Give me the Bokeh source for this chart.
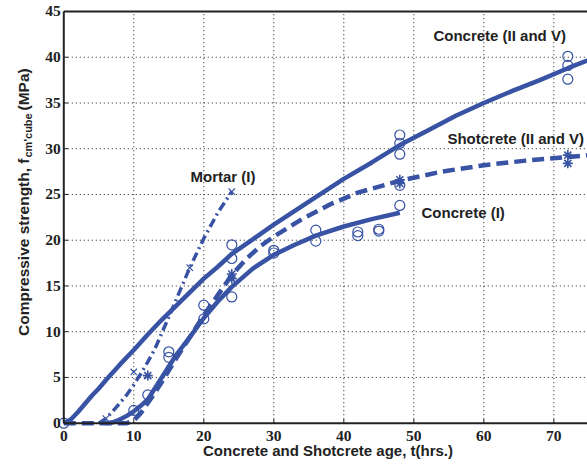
import math
from bokeh.plotting import figure
from bokeh.models import Label, Range1d
from bokeh.embed import file_html
from bokeh.resources import INLINE

BLUE = "#3853a4"
INK = "#222222"
FONT = "Liberation Sans"

# Fitted curves
c2_t = [0, 1, 2, 3, 4, 5, 6, 8, 10, 12, 14, 16, 18, 20, 22, 24, 27, 30, 33, 36, 40, 44, 48, 52, 56, 60, 64, 68, 72, 75]
c2_f = [0, 0.4, 1.2, 2.1, 3.0, 3.8, 4.7, 6.4, 8.0, 9.7, 11.3, 12.8, 14.3, 15.8, 17.1, 18.5, 20.1, 21.7, 23.2, 24.7, 26.7, 28.5, 30.4, 32.0, 33.6, 35.0, 36.3, 37.5, 38.8, 39.7]

c1_t = [6, 7, 8, 9, 10, 11, 12, 13, 14, 16, 18, 20, 22, 24, 27, 30, 33, 36, 40, 44, 48]
c1_f = [0, 0.1, 0.4, 0.8, 1.3, 1.9, 2.6, 3.8, 5.0, 7.4, 9.4, 11.5, 13.3, 14.9, 16.9, 18.4, 19.5, 20.5, 21.5, 22.3, 23.0]

sh_t = [0, 9, 10, 11, 12, 13, 14, 16, 18, 20, 22, 24, 26, 28, 30, 34, 38, 42, 48, 54, 60, 66, 72, 75]
sh_f = [0, 0, 0.3, 1.1, 2.2, 3.3, 4.5, 7.0, 9.4, 11.8, 14.0, 16.2, 17.9, 19.3, 20.4, 22.3, 23.9, 25.2, 26.5, 27.5, 28.2, 28.7, 29.1, 29.3]

mo_t = [5, 6, 7, 8, 9, 10, 11, 12, 13, 15, 16, 18, 20, 22, 24]
mo_f = [0, 0.5, 1.3, 2.2, 3.1, 4.2, 5.4, 6.7, 8.1, 11.6, 13.4, 17.0, 20.2, 23.0, 25.3]

# Measured points
c1p_t = [0, 10, 12, 15, 15, 20, 20, 24, 30, 30, 36, 36, 42, 42, 45, 45, 48, 48]
c1p_f = [0, 1.4, 3.1, 7.8, 7.2, 12.9, 11.4, 13.8, 18.9, 18.6, 21.1, 19.9, 20.9, 20.5, 21.2, 21.0, 23.8, 26.0]
c2p_t = [24, 24, 48, 48, 48, 72, 72, 72]
c2p_f = [19.5, 18.0, 31.5, 30.6, 29.4, 40.1, 39.1, 37.6]
shp_t = [12, 24, 24, 48, 48, 72, 72]
shp_f = [5.2, 16.3, 15.8, 26.6, 26.2, 29.3, 28.4]
mop_t = [6, 10, 18, 24]
mop_f = [0.5, 5.6, 17.0, 25.3]

x_ticks = [0, 10, 20, 30, 40, 50, 60, 70]
y_ticks = [0, 5, 10, 15, 20, 25, 30, 35, 40, 45]
x_labels = [str(v) for v in x_ticks]
y_labels = [str(v) for v in y_ticks]
X_MAX = 75
Y_MAX = 45

# the frame fills the whole canvas; axes are drawn at t=0 and f=0
p = figure(width=587, height=470, output_backend="svg", toolbar_location=None,
           x_range=Range1d(-9.04, 74.81), y_range=Range1d(-5.17, 46.2),
           x_axis_location=None, y_axis_location=None,
           min_border=0, min_border_left=0, min_border_right=0,
           min_border_top=0, min_border_bottom=0)
p.outline_line_color = None
p.xgrid.visible = False
p.ygrid.visible = False
p.background_fill_color = "white"

# dotted grid
p.segment(x0=x_ticks[1:], y0=[0] * (len(x_ticks) - 1), x1=x_ticks[1:], y1=[Y_MAX] * (len(x_ticks) - 1),
          line_color="black", line_width=1, line_dash="1 3", line_alpha=0.9)
p.segment(x0=[0] * (len(y_ticks) - 2), y0=y_ticks[1:-1], x1=[X_MAX] * (len(y_ticks) - 2), y1=y_ticks[1:-1],
          line_color="black", line_width=1, line_dash="1 3", line_alpha=0.9)

# curves
p.line(c2_t, c2_f, line_color=BLUE, line_width=4.5)
p.line(c1_t, c1_f, line_color=BLUE, line_width=4.5)
p.line(sh_t, sh_f, line_color=BLUE, line_width=4.5, line_dash="12 6")
p.line(mo_t, mo_f, line_color=BLUE, line_width=3.5, line_dash="9 4 2 4")

# markers
p.scatter(c1p_t, c1p_f, marker="circle", size=10, fill_color=None, line_color=BLUE, line_width=1.2)
p.scatter(c2p_t, c2p_f, marker="circle", size=10, fill_color=None, line_color=BLUE, line_width=1.2)
p.scatter(shp_t, shp_f, marker="asterisk", size=10, line_color=BLUE, line_width=1.6)
p.scatter(mop_t, mop_f, marker="x", size=9, line_color=BLUE, line_width=1.2)

# axes lines (bottom, left, top)
p.segment(x0=[0, 0, 0], y0=[0, 0, Y_MAX], x1=[X_MAX, 0, X_MAX], y1=[0, Y_MAX, Y_MAX],
          line_color=INK, line_width=2)
# inward ticks
p.segment(x0=x_ticks, y0=[0] * len(x_ticks), x1=x_ticks, y1=[0.45] * len(x_ticks), line_color=INK, line_width=1)
p.segment(x0=[0] * len(y_ticks), y0=y_ticks, x1=[0.6] * len(y_ticks), y1=y_ticks, line_color=INK, line_width=1)

# tick labels
p.text(x=x_ticks, y=[0] * len(x_ticks), text=x_labels, y_offset=8, text_align="center",
       text_baseline="top", text_font="Liberation Sans", text_font_size="15.5px",
       text_font_style="bold", text_color=INK)
p.text(x=[0] * len(y_ticks), y=y_ticks, text=y_labels, x_offset=-3, text_align="right",
       text_baseline="middle", text_font="Liberation Sans", text_font_size="15.5px",
       text_font_style="bold", text_color=INK)

def lab(x, y, t):
    p.add_layout(Label(x=x, y=y, text=t, text_font=FONT, text_font_size="15px",
                       text_font_style="bold",
                       text_color=INK, text_baseline="middle", text_align="left"))

lab(52.8, 42.4, "Concrete (II and V)")
lab(54.8, 31.1, "Shotcrete (II and V)")
lab(51.1, 23.0, "Concrete (I)")
lab(18.1, 27.0, "Mortar (I)")

# x-axis title
p.add_layout(Label(x=327.5, y=470 - 441, x_units="screen", y_units="screen",
                   text="Concrete and Shotcrete age, t(hrs.)", text_align="center", text_baseline="top",
                   text_font=FONT, text_font_size="15px", text_font_style="bold", text_color=INK))

# y-axis title with subscript
ang = math.pi / 2
p.add_layout(Label(x=23, y=470 - 158, x_units="screen", y_units="screen", text="Compressive strength, f",
                   angle=ang, text_align="right", text_baseline="alphabetic", text_font=FONT,
                   text_font_size="15.5px", text_font_style="bold", text_color=INK))
p.add_layout(Label(x=27.5, y=470 - 157, x_units="screen", y_units="screen", text="cm'cube",
                   angle=ang, text_align="left", text_baseline="alphabetic", text_font=FONT,
                   text_font_size="11px", text_font_style="bold", text_color=INK))
p.add_layout(Label(x=23, y=470 - 110, x_units="screen", y_units="screen", text="(MPa)",
                   angle=ang, text_align="left", text_baseline="alphabetic", text_font=FONT,
                   text_font_size="15.5px", text_font_style="bold", text_color=INK))

open("out.html", "w").write(file_html(p, INLINE))
